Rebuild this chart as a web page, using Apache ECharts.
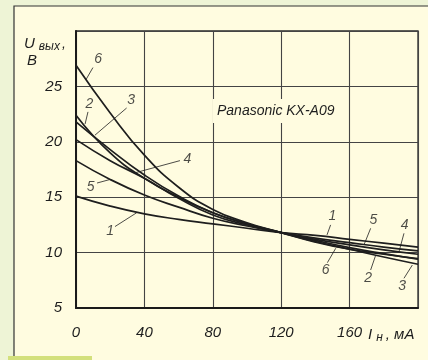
<!DOCTYPE html>
<html><head><meta charset="utf-8">
<script src="https://cdn.jsdelivr.net/npm/echarts@6/dist/echarts.min.js"></script>
<style>html,body{margin:0;padding:0;background:#eef4d6;}#c{width:428px;height:360px;}</style>
</head><body><div id="c"></div>
<script>
// Load current I_н, mA
const xVals = [0, 20, 40, 60, 80, 100, 120, 140, 160, 180, 200];
// Output voltage U_вых, V for curves 1..6
const curve1 = [15.1, 14.2, 13.5, 13.0, 12.6, 12.2, 11.8, 11.55, 11.2, 10.85, 10.5];
const curve2 = [22.4, 19.0, 16.7, 15.0, 13.6, 12.6, 11.8, 11.1, 10.45, 9.9, 9.4];
const curve3 = [21.8, 19.3, 17.0, 15.1, 13.6, 12.6, 11.8, 11.0, 10.3, 9.6, 8.95];
const curve4 = [20.2, 18.3, 16.7, 14.9, 13.4, 12.5, 11.8, 11.2, 10.7, 10.25, 9.85];
const curve5 = [18.3, 16.6, 15.2, 14.1, 13.1, 12.4, 11.8, 11.3, 10.9, 10.5, 10.15];
const curve6 = [26.9, 22.6, 18.8, 15.9, 13.9, 12.7, 11.8, 10.95, 10.3, 9.85, 9.45];
const xTicks = [0, 40, 80, 120, 160];
const yTicks = [5, 10, 15, 20, 25];
// Curve number labels (data coords) and leader lines
const labelNames = ['6', '2', '3', '4', '5', '1', '1', '6', '5', '4', '2', '3'];
const labelPos = [[12.9, 27.5], [7.8, 23.4], [32.2, 23.8], [65.1, 18.4], [8.6, 15.95], [19.9, 11.9],
                  [149.9, 13.25], [146, 8.43], [173.9, 12.94], [192.2, 12.49], [170.8, 7.68], [190.8, 7.0]];
const leaders = [
  [[9.9, 26.7], [5.8, 25.6]],
  [[7.0, 22.7], [5.3, 21.6]],
  [[29.6, 23.05], [11.1, 20.6]],
  [[60.8, 18.3], [34.5, 17.2]],
  [[12.3, 16.28], [19.9, 16.6]],
  [[22.8, 12.35], [35.5, 13.6]],
  [[148.9, 12.5], [146.8, 11.6]],
  [[147, 9.09], [151.9, 10.39]],
  [[172.3, 12.19], [168.4, 10.69]],
  [[191.8, 11.74], [188.9, 10.09]],
  [[172.3, 8.43], [175.3, 9.78]],
  [[191.8, 7.68], [196.7, 8.88]]
];
const chartTitle = 'Panasonic KX-A09';

const FONT = 'Liberation Sans';
const ink = '#1e1e1e';
const curves = [curve1, curve2, curve3, curve4, curve5, curve6];
const chart = echarts.init(document.getElementById('c'), null, {renderer: 'canvas'});
const series = curves.map((c, i) => ({
  type: 'line', name: String(i + 1), data: xVals.map((x, j) => [x, c[j]]),
  symbol: 'none', smooth: 0.5,
  lineStyle: {color: ink, width: 1.7}, z: 3, silent: true
}));
series.push({
  type: 'scatter', symbolSize: 0, silent: true, z: 5,
  data: labelPos.map((p, i) => ({value: p, name: labelNames[i]})),
  label: {show: true, position: 'inside', formatter: '{b}', color: ink,
          fontFamily: FONT, fontStyle: 'italic', fontSize: 14},
  markLine: {silent: true, symbol: 'none', animation: false,
    lineStyle: {color: ink, width: 0.8, type: 'solid'}, label: {show: false},
    data: leaders.map(l => [{coord: l[0]}, {coord: l[1]}])}
});
const tStyle = (size, pad) => ({fontFamily: FONT, fontStyle: 'italic', fontWeight: 'normal', fontSize: size, color: ink, padding: pad});

chart.setOption({
  animation: false,
  backgroundColor: '#eef4d6',
  graphic: [
    {type: 'rect', shape: {x: 14, y: 6, width: 430, height: 370}, style: {fill: '#fffce0', stroke: '#333', lineWidth: 1.2}, z: -10},
    {type: 'rect', shape: {x: 8, y: 356, width: 84, height: 6}, style: {fill: '#d3e07c'}, z: -5}
  ],
  title: [
    {text: '{u|U}{s|вых}{c|,}', left: 22, top: 33, padding: 2,
     textStyle: {fontWeight: 'normal', rich: {u: tStyle(15, [0, 0, 0, 0]), s: tStyle(12, [6, 0, 0, 4]), c: tStyle(14, [0, 0, 0, 2])}}},
    {text: 'В', left: 25, top: 51, padding: 2, textStyle: tStyle(15)},
    {text: '{u|I}{s|н}{u|, мА}', left: 366, top: 324, padding: 2,
     textStyle: {fontWeight: 'normal', rich: {u: tStyle(15, [0, 0, 0, 0]), s: tStyle(12, [6, 3, 0, 4])}}},
    {text: chartTitle, left: 213, top: 99, padding: [5, 4], backgroundColor: '#fffce0',
     textStyle: tStyle(14)}
  ],
  grid: {left: 76, top: 31, right: 10, bottom: 52, show: true, borderColor: '#2a2a2a', borderWidth: 1.3, backgroundColor: 'transparent'},
  xAxis: {type: 'value', min: 0, max: 200, interval: 40,
    axisLine: {show: true, lineStyle: {color: '#1a1a1a', width: 2}},
    axisTick: {show: false},
    splitLine: {show: true, lineStyle: {color: '#444', width: 1.1}},
    axisLabel: {margin: 17, color: ink, fontFamily: FONT, fontStyle: 'italic', fontSize: 15,
      formatter: v => xTicks.includes(v) ? String(v) : ''}},
  yAxis: {type: 'value', min: 5, max: 30, interval: 5,
    axisLine: {show: true, lineStyle: {color: '#1a1a1a', width: 2}},
    axisTick: {show: false},
    splitLine: {show: true, lineStyle: {color: '#444', width: 1.1}},
    axisLabel: {margin: 14, color: ink, fontFamily: FONT, fontStyle: 'italic', fontSize: 15,
      formatter: v => yTicks.includes(v) ? String(v) : ''}},
  series: series
});
</script></body></html>
